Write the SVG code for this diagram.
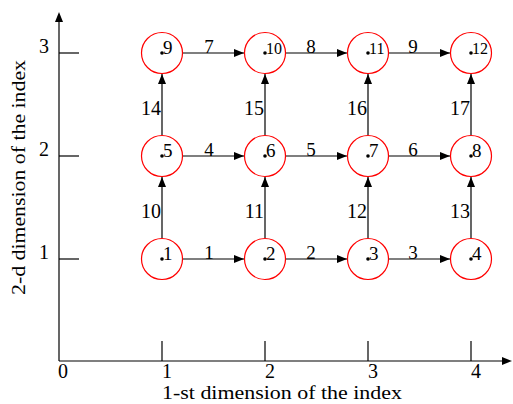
<svg xmlns="http://www.w3.org/2000/svg" width="513" height="404" viewBox="0 0 513 404">
<style>
text{font-family:"Liberation Serif","DejaVu Serif",serif;font-size:19px;fill:#000}
.ax{stroke:#000;stroke-width:1.2;fill:none}
.e{stroke:#000;stroke-width:1.2;fill:none;marker-end:url(#ah)}
.n circle.c{fill:#fff;stroke:#f00;stroke-width:1.2}
.n circle.d{fill:#000}
.n text{font-size:19px}
.n text.s{font-size:16px}
.el{text-anchor:middle}
.vl{text-anchor:end;font-size:20px}
.tk{text-anchor:middle;font-size:20px}
</style>
<defs>
<marker id="ah" viewBox="0 0 10 8" refX="10" refY="4" markerWidth="10" markerHeight="8" markerUnits="userSpaceOnUse" orient="auto">
<path d="M0,0 L10,4 L0,8 Z" fill="#000"/>
</marker>
</defs>
<g id="axes">
<line class="ax" x1="59" y1="361" x2="505" y2="361"/>
<path d="M512,361 L502,357 L502,365 Z" fill="#000"/>
<line class="ax" x1="59" y1="361" x2="59" y2="20"/>
<path d="M59,12 L55,22 L63,22 Z" fill="#000"/>
<line class="ax" x1="162" y1="341" x2="162" y2="361"/>
<line class="ax" x1="265" y1="341" x2="265" y2="361"/>
<line class="ax" x1="368" y1="341" x2="368" y2="361"/>
<line class="ax" x1="471" y1="341" x2="471" y2="361"/>
<line class="ax" x1="59" y1="259" x2="79" y2="259"/>
<line class="ax" x1="59" y1="156" x2="79" y2="156"/>
<line class="ax" x1="59" y1="53" x2="79" y2="53"/>
<text class="tk" x="63" y="378">0</text>
<text class="tk" x="167" y="378">1</text>
<text class="tk" x="270" y="378">2</text>
<text class="tk" x="373" y="378">3</text>
<text class="tk" x="476" y="378">4</text>
<text class="tk" x="44" y="259">1</text>
<text class="tk" x="44" y="156">2</text>
<text class="tk" x="44" y="53">3</text>
<text x="162" y="399" font-size="18" textLength="240" lengthAdjust="spacingAndGlyphs">1-st dimension of the index</text>
<text x="0" y="0" font-size="19" textLength="235" lengthAdjust="spacingAndGlyphs" transform="translate(25,295) rotate(-90)">2-d dimension of the index</text>
</g>
<g id="connectors">
<line class="e" x1="183" y1="259" x2="244" y2="259"/>
<line class="e" x1="286" y1="259" x2="347" y2="259"/>
<line class="e" x1="389" y1="259" x2="450" y2="259"/>
<line class="e" x1="183" y1="156" x2="244" y2="156"/>
<line class="e" x1="286" y1="156" x2="347" y2="156"/>
<line class="e" x1="389" y1="156" x2="450" y2="156"/>
<line class="e" x1="183" y1="53" x2="244" y2="53"/>
<line class="e" x1="286" y1="53" x2="347" y2="53"/>
<line class="e" x1="389" y1="53" x2="450" y2="53"/>
<line class="e" x1="162" y1="238" x2="162" y2="177"/>
<line class="e" x1="265" y1="238" x2="265" y2="177"/>
<line class="e" x1="368" y1="238" x2="368" y2="177"/>
<line class="e" x1="471" y1="238" x2="471" y2="177"/>
<line class="e" x1="162" y1="135" x2="162" y2="74"/>
<line class="e" x1="265" y1="135" x2="265" y2="74"/>
<line class="e" x1="368" y1="135" x2="368" y2="74"/>
<line class="e" x1="471" y1="135" x2="471" y2="74"/>
<text class="el" x="209" y="259">1</text>
<text class="el" x="311" y="259" font-size="16">2</text>
<text class="el" x="413" y="259">3</text>
<text class="el" x="209" y="156">4</text>
<text class="el" x="311" y="156">5</text>
<text class="el" x="413" y="156">6</text>
<text class="el" x="209" y="53">7</text>
<text class="el" x="311" y="53">8</text>
<text class="el" x="413" y="53">9</text>
<text class="vl" x="161" y="218">10</text>
<text class="vl" x="264" y="218">11</text>
<text class="vl" x="367" y="218">12</text>
<text class="vl" x="470" y="218">13</text>
<text class="vl" x="161" y="115">14</text>
<text class="vl" x="264" y="115">15</text>
<text class="vl" x="367" y="115">16</text>
<text class="vl" x="470" y="115">17</text>
</g>
<g id="node1" class="n"><circle class="c" cx="162" cy="259" r="20.5"/><circle class="d" cx="162" cy="259" r="1.8"/><text x="163" y="260">1</text></g>
<g id="node2" class="n"><circle class="c" cx="265" cy="259" r="20.5"/><circle class="d" cx="265" cy="259" r="1.8"/><text x="266" y="260">2</text></g>
<g id="node3" class="n"><circle class="c" cx="368" cy="259" r="20.5"/><circle class="d" cx="368" cy="259" r="1.8"/><text x="369" y="260">3</text></g>
<g id="node4" class="n"><circle class="c" cx="471" cy="259" r="20.5"/><circle class="d" cx="471" cy="259" r="1.8"/><text x="472" y="260">4</text></g>
<g id="node5" class="n"><circle class="c" cx="162" cy="156" r="20.5"/><circle class="d" cx="162" cy="156" r="1.8"/><text x="163" y="157">5</text></g>
<g id="node6" class="n"><circle class="c" cx="265" cy="156" r="20.5"/><circle class="d" cx="265" cy="156" r="1.8"/><text x="266" y="157">6</text></g>
<g id="node7" class="n"><circle class="c" cx="368" cy="156" r="20.5"/><circle class="d" cx="368" cy="156" r="1.8"/><text x="369" y="157">7</text></g>
<g id="node8" class="n"><circle class="c" cx="471" cy="156" r="20.5"/><circle class="d" cx="471" cy="156" r="1.8"/><text x="472" y="157">8</text></g>
<g id="node9" class="n"><circle class="c" cx="162" cy="53" r="20.5"/><circle class="d" cx="162" cy="53" r="1.8"/><text x="163" y="54">9</text></g>
<g id="node10" class="n"><circle class="c" cx="265" cy="53" r="20.5"/><circle class="d" cx="265" cy="53" r="1.8"/><text class="s" x="266" y="54">10</text></g>
<g id="node11" class="n"><circle class="c" cx="368" cy="53" r="20.5"/><circle class="d" cx="368" cy="53" r="1.8"/><text class="s" x="369" y="54">11</text></g>
<g id="node12" class="n"><circle class="c" cx="471" cy="53" r="20.5"/><circle class="d" cx="471" cy="53" r="1.8"/><text class="s" x="472" y="54">12</text></g>
</svg>
